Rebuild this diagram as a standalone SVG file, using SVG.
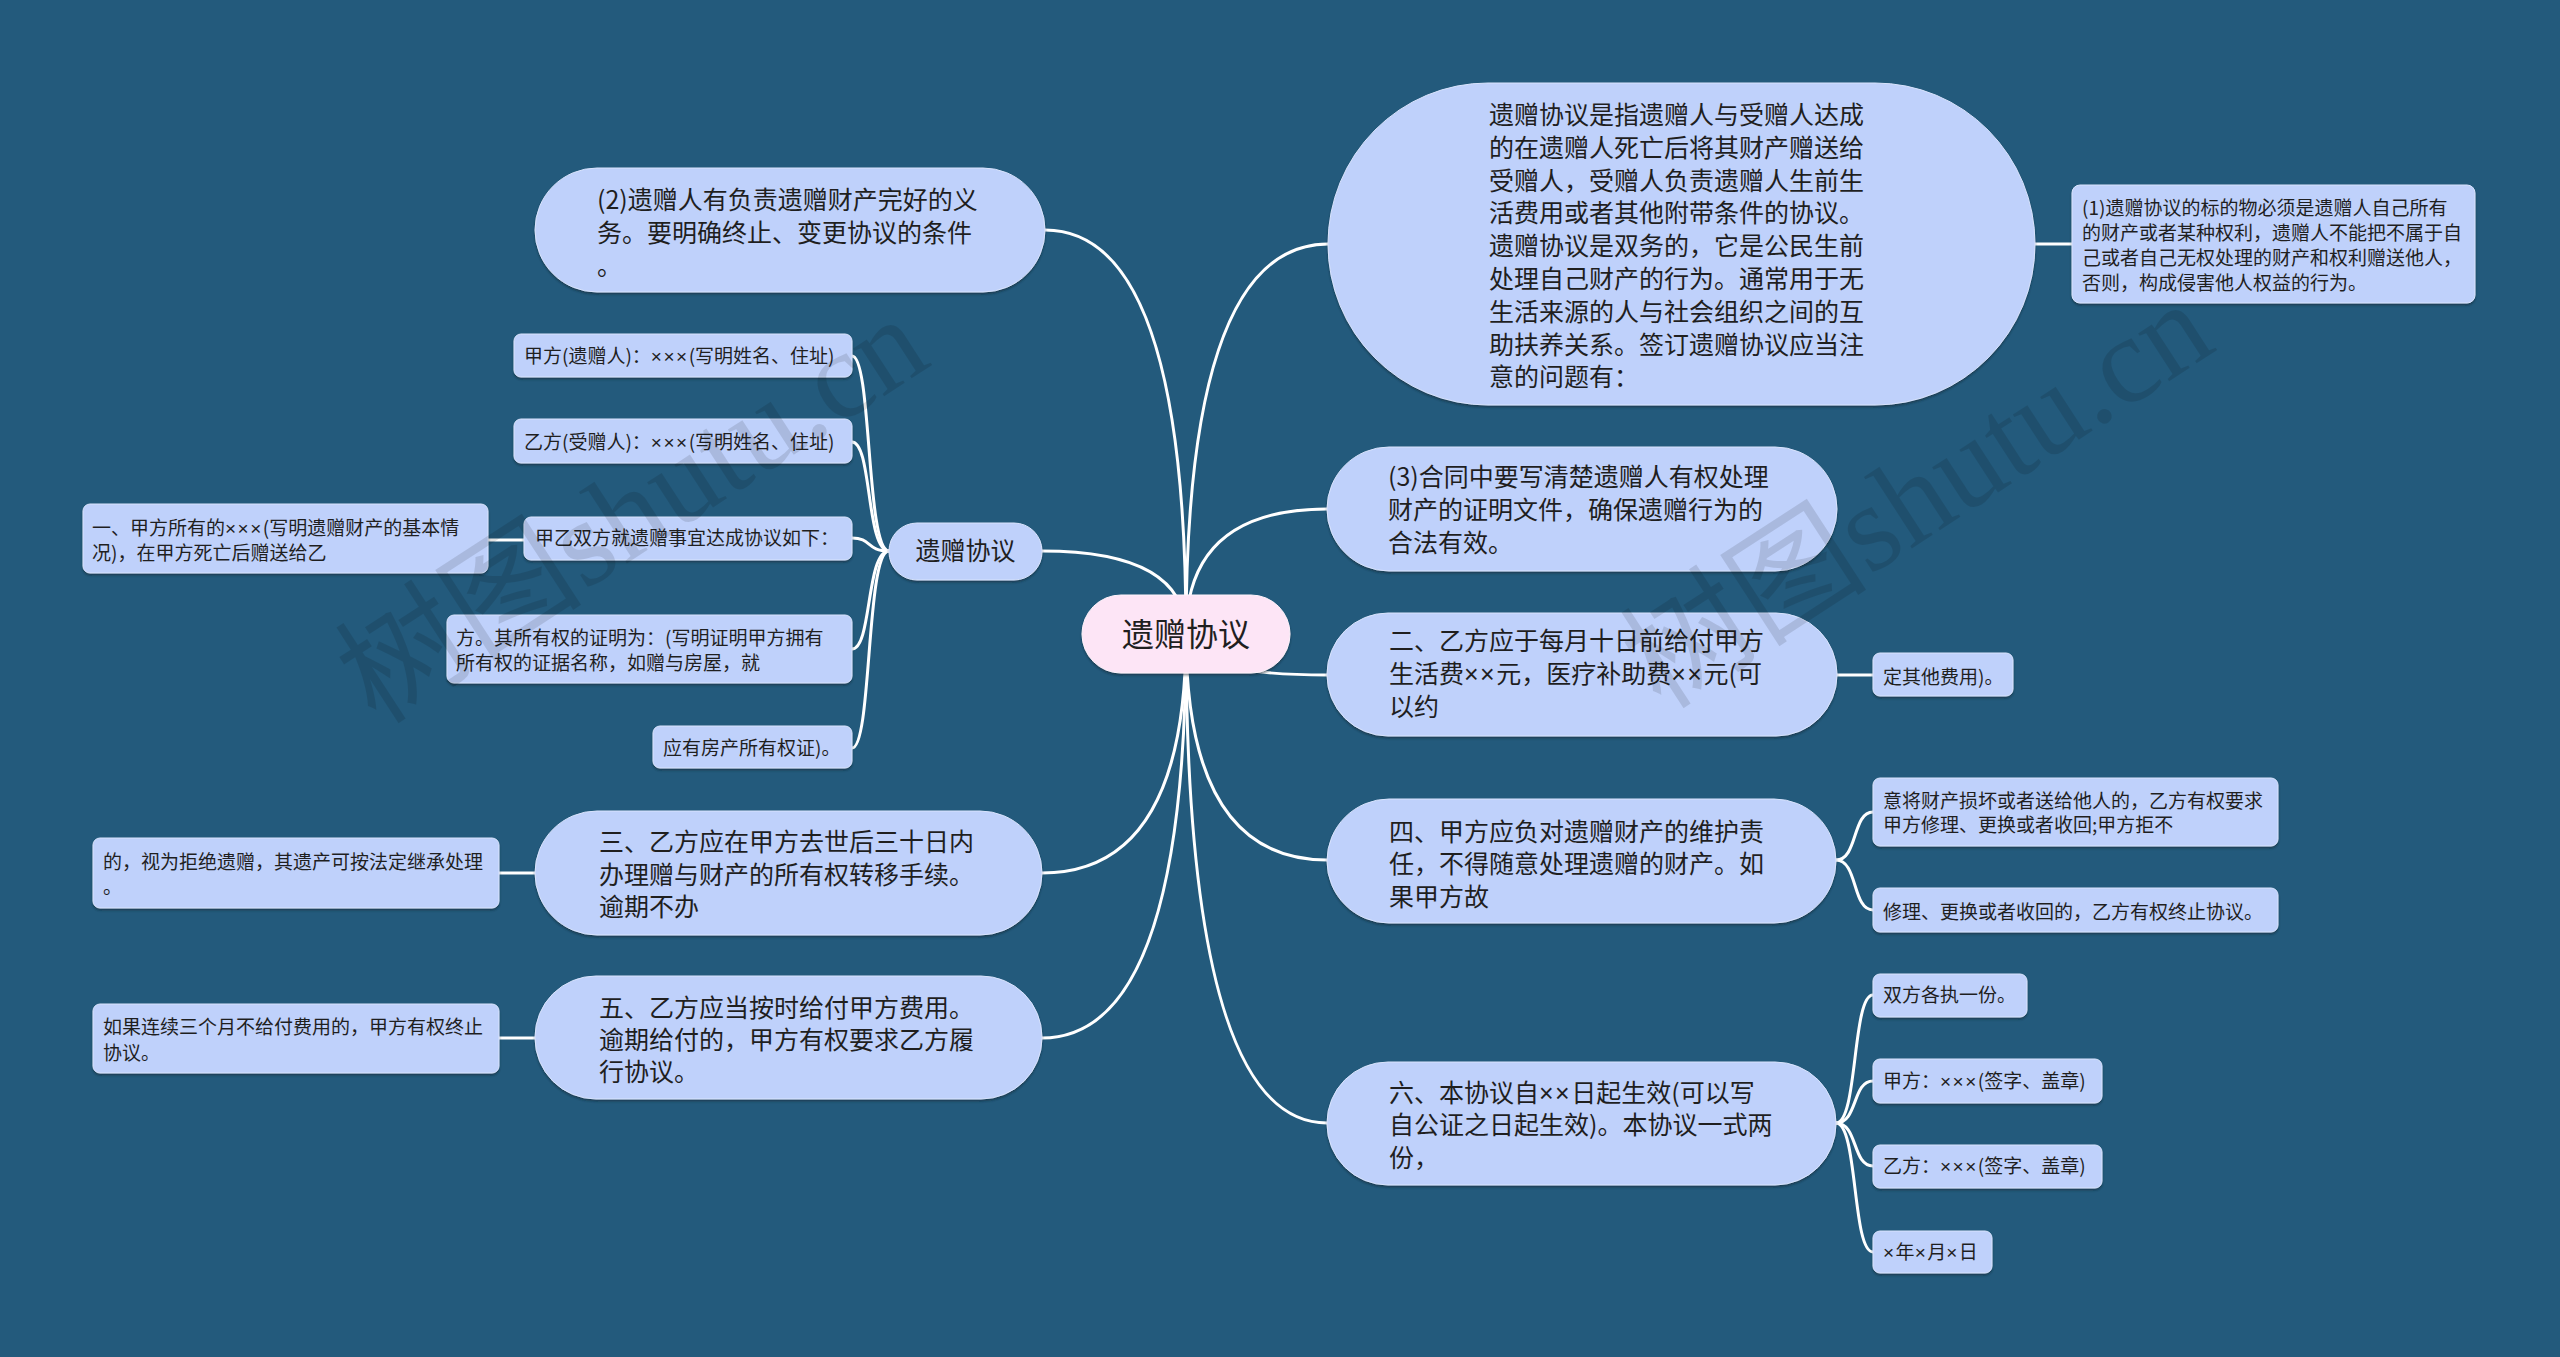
<svg xmlns="http://www.w3.org/2000/svg" width="2560" height="1357" viewBox="0 0 2560 1357">
<defs>
<filter id="sh" x="-5%" y="-10%" width="110%" height="130%">
<feDropShadow dx="0" dy="2" stdDeviation="1.2" flood-color="#0b2538" flood-opacity="0.55"/>
</filter>
<style>
.n{fill:#bfd1fb;stroke:#d9e4fd;stroke-width:1;filter:url(#sh)}
.r{fill:#fde5f6;stroke:#fff3fb;stroke-width:1;filter:url(#sh)}
.t{font-family:"Noto Sans CJK SC","Noto Sans",sans-serif;fill:#1f1f1f}
.x{font-family:"Liberation Sans","Noto Sans",sans-serif;letter-spacing:1.5px}
.f25{font-size:25px}
.f19{font-size:19px}
.f32{font-size:32px}
.c path{fill:none;stroke:#ffffff;stroke-width:3;stroke-linecap:round}
.wm{font-family:"Liberation Serif","Noto Sans CJK SC",serif;font-size:124px;fill:#000;opacity:0.11}
</style>
</defs>
<rect x="0" y="0" width="2560" height="1357" fill="#235a7c"/>

<g class="c" id="connectors">
<path d="M1186 634 Q1186 244 1328 244"/>
<path d="M1186 634 Q1186 509 1327 509"/>
<path d="M1186 634 Q1186 675 1327 675"/>
<path d="M1186 634 Q1186 860 1327 860"/>
<path d="M1186 634 Q1186 1123 1327 1123"/>
<path d="M1186 634 Q1186 230 1045 230"/>
<path d="M1186 634 Q1186 551 1042 551"/>
<path d="M1186 634 Q1186 873 1042 873"/>
<path d="M1186 634 Q1186 1038 1042 1038"/>
<path d="M2035 244 L2072 244"/>
<path d="M1837 675 L1873 675"/>
<path d="M535 873 L499 873"/>
<path d="M535 1038 L499 1038"/>
<path d="M524 540 L488 540"/>
<path d="M889 551 C866 551 872 356 852 356"/>
<path d="M889 551 C866 551 872 442 852 442"/>
<path d="M889 551 C866 551 872 538 852 538"/>
<path d="M889 551 C866 551 872 649 852 649"/>
<path d="M889 551 C866 551 872 748 852 748"/>
<path d="M1836 860 C1858 860 1852 812 1873 812"/>
<path d="M1836 860 C1858 860 1852 910 1873 910"/>
<path d="M1836 1123 C1858 1123 1852 995 1873 995"/>
<path d="M1836 1123 C1858 1123 1852 1081 1873 1081"/>
<path d="M1836 1123 C1858 1123 1852 1166 1873 1166"/>
<path d="M1836 1123 C1858 1123 1852 1252 1873 1252"/>
</g>

<g id="root">
<rect class="r" x="1082" y="595" width="208" height="78" rx="39"/>
<text class="t f32" x="1186" y="646" text-anchor="middle">遗赠协议</text>
</g>

<g id="nodeA">
<rect class="n" x="1328" y="83" width="707" height="322" rx="160" ry="161"/>
<text class="t f25" x="1489" y="124">遗赠协议是指遗赠人与受赠人达成</text>
<text class="t f25" x="1489" y="157">的在遗赠人死亡后将其财产赠送给</text>
<text class="t f25" x="1489" y="190">受赠人，受赠人负责遗赠人生前生</text>
<text class="t f25" x="1489" y="222">活费用或者其他附带条件的协议。</text>
<text class="t f25" x="1489" y="255">遗赠协议是双务的，它是公民生前</text>
<text class="t f25" x="1489" y="288">处理自己财产的行为。通常用于无</text>
<text class="t f25" x="1489" y="321">生活来源的人与社会组织之间的互</text>
<text class="t f25" x="1489" y="354">助扶养关系。签订遗赠协议应当注</text>
<text class="t f25" x="1489" y="386">意的问题有：</text>
</g>

<g id="nodeA1">
<rect class="n" x="2072" y="185" width="403" height="118" rx="8"/>
<text class="t f19" x="2082" y="215">(1)遗赠协议的标的物必须是遗赠人自己所有</text>
<text class="t f19" x="2082" y="240">的财产或者某种权利，遗赠人不能把不属于自</text>
<text class="t f19" x="2082" y="265">己或者自己无权处理的财产和权利赠送他人，</text>
<text class="t f19" x="2082" y="290">否则，构成侵害他人权益的行为。</text>
</g>

<g id="node2">
<rect class="n" x="535" y="168" width="510" height="124" rx="62"/>
<text class="t f25" x="597" y="209">(2)遗赠人有负责遗赠财产完好的义</text>
<text class="t f25" x="597" y="242">务。要明确终止、变更协议的条件</text>
<text class="t f25" x="597" y="275">。</text>
</g>

<g id="nodeL">
<rect class="n" x="889" y="523" width="153" height="57" rx="28"/>
<text class="t f25" x="965.5" y="560" text-anchor="middle">遗赠协议</text>
</g>

<g id="nodeL1">
<rect class="n" x="514" y="334" width="338" height="43" rx="7"/>
<text class="t f19" x="524" y="363">甲方(遗赠人)：<tspan class="x">×××</tspan>(写明姓名、住址)</text>
</g>
<g id="nodeL2">
<rect class="n" x="514" y="419" width="338" height="44" rx="7"/>
<text class="t f19" x="524" y="449">乙方(受赠人)：<tspan class="x">×××</tspan>(写明姓名、住址)</text>
</g>
<g id="nodeL3">
<rect class="n" x="524" y="517" width="328" height="43" rx="7"/>
<text class="t f19" x="535" y="545">甲乙双方就遗赠事宜达成协议如下：</text>
</g>
<g id="nodeL3a">
<rect class="n" x="83" y="504" width="405" height="69" rx="7"/>
<text class="t f19" x="92" y="535">一、甲方所有的<tspan class="x">×××</tspan>(写明遗赠财产的基本情</text>
<text class="t f19" x="92" y="560">况)，在甲方死亡后赠送给乙</text>
</g>
<g id="nodeL4">
<rect class="n" x="447" y="615" width="405" height="68" rx="7"/>
<text class="t f19" x="456" y="645">方。其所有权的证明为：(写明证明甲方拥有</text>
<text class="t f19" x="456" y="670">所有权的证据名称，如赠与房屋，就</text>
</g>
<g id="nodeL5">
<rect class="n" x="653" y="726" width="199" height="42" rx="7"/>
<text class="t f19" x="663" y="755">应有房产所有权证)。</text>
</g>

<g id="node3L">
<rect class="n" x="535" y="811" width="507" height="124" rx="62"/>
<text class="t f25" x="599" y="851">三、乙方应在甲方去世后三十日内</text>
<text class="t f25" x="599" y="884">办理赠与财产的所有权转移手续。</text>
<text class="t f25" x="599" y="916">逾期不办</text>
</g>
<g id="node3La">
<rect class="n" x="93" y="838" width="406" height="70" rx="7"/>
<text class="t f19" x="103" y="869">的，视为拒绝遗赠，其遗产可按法定继承处理</text>
<text class="t f19" x="103" y="894">。</text>
</g>

<g id="node5L">
<rect class="n" x="535" y="976" width="507" height="123" rx="61"/>
<text class="t f25" x="599" y="1017">五、乙方应当按时给付甲方费用。</text>
<text class="t f25" x="599" y="1049">逾期给付的，甲方有权要求乙方履</text>
<text class="t f25" x="599" y="1081">行协议。</text>
</g>
<g id="node5La">
<rect class="n" x="93" y="1004" width="406" height="69" rx="7"/>
<text class="t f19" x="103" y="1034">如果连续三个月不给付费用的，甲方有权终止</text>
<text class="t f19" x="103" y="1060">协议。</text>
</g>

<g id="node3R">
<rect class="n" x="1327" y="447" width="510" height="124" rx="62"/>
<text class="t f25" x="1388" y="486">(3)合同中要写清楚遗赠人有权处理</text>
<text class="t f25" x="1388" y="519">财产的证明文件，确保遗赠行为的</text>
<text class="t f25" x="1388" y="552">合法有效。</text>
</g>

<g id="node2R">
<rect class="n" x="1327" y="613" width="510" height="123" rx="61"/>
<text class="t f25" x="1389" y="650">二、乙方应于每月十日前给付甲方</text>
<text class="t f25" x="1389" y="683">生活费<tspan class="x">××</tspan>元，医疗补助费<tspan class="x">××</tspan>元(可</text>
<text class="t f25" x="1389" y="716">以约</text>
</g>
<g id="node2Ra">
<rect class="n" x="1873" y="653" width="140" height="43" rx="7"/>
<text class="t f19" x="1883" y="684">定其他费用)。</text>
</g>

<g id="node4R">
<rect class="n" x="1327" y="799" width="509" height="124" rx="62"/>
<text class="t f25" x="1389" y="841">四、甲方应负对遗赠财产的维护责</text>
<text class="t f25" x="1389" y="873">任，不得随意处理遗赠的财产。如</text>
<text class="t f25" x="1389" y="906">果甲方故</text>
</g>
<g id="node4Ra">
<rect class="n" x="1873" y="778" width="405" height="68" rx="7"/>
<text class="t f19" x="1883" y="808">意将财产损坏或者送给他人的，乙方有权要求</text>
<text class="t f19" x="1883" y="832">甲方修理、更换或者收回;甲方拒不</text>
</g>
<g id="node4Rb">
<rect class="n" x="1873" y="888" width="405" height="44" rx="7"/>
<text class="t f19" x="1883" y="919">修理、更换或者收回的，乙方有权终止协议。</text>
</g>

<g id="node6R">
<rect class="n" x="1327" y="1062" width="509" height="123" rx="61"/>
<text class="t f25" x="1389" y="1102">六、本协议自<tspan class="x">××</tspan>日起生效(可以写</text>
<text class="t f25" x="1389" y="1134">自公证之日起生效)。本协议一式两</text>
<text class="t f25" x="1389" y="1167">份，</text>
</g>
<g id="node6Ra">
<rect class="n" x="1873" y="974" width="154" height="43" rx="7"/>
<text class="t f19" x="1883" y="1002">双方各执一份。</text>
</g>
<g id="node6Rb">
<rect class="n" x="1873" y="1059" width="229" height="44" rx="7"/>
<text class="t f19" x="1883" y="1088">甲方：<tspan class="x">×××</tspan>(签字、盖章)</text>
</g>
<g id="node6Rc">
<rect class="n" x="1873" y="1145" width="229" height="43" rx="7"/>
<text class="t f19" x="1883" y="1173">乙方：<tspan class="x">×××</tspan>(签字、盖章)</text>
</g>
<g id="node6Rd">
<rect class="n" x="1873" y="1231" width="119" height="42" rx="7"/>
<text class="t f19" x="1883" y="1259"><tspan class="x">×</tspan>年<tspan class="x">×</tspan>月<tspan class="x">×</tspan>日</text>
</g>

<g id="watermarks">
<text class="wm" x="0" y="0" text-anchor="middle" transform="translate(655,545) rotate(-33)">树图shutu.cn</text>
<text class="wm" x="0" y="0" text-anchor="middle" transform="translate(1940,530) rotate(-33)">树图shutu.cn</text>
</g>
</svg>
